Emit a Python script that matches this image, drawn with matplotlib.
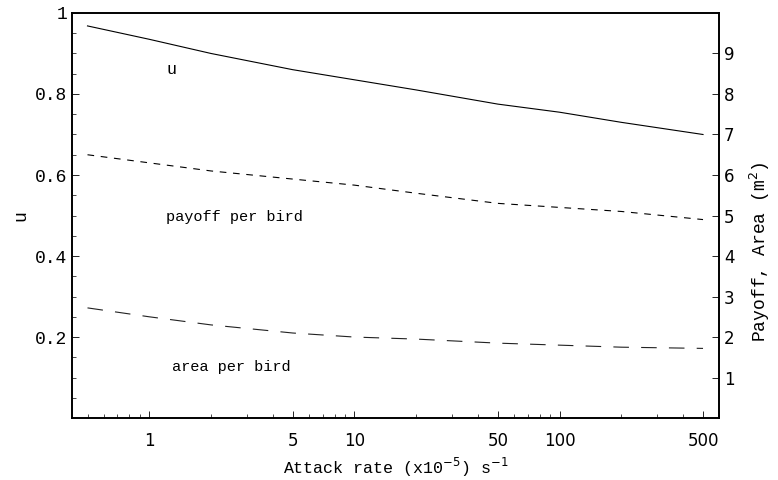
import matplotlib.pyplot as plt
from matplotlib.ticker import FixedLocator, NullFormatter

# attack rate (x10^-5 per s) and the model outputs at each rate
attack = [0.5, 1, 2, 5, 10, 20, 50, 100, 200, 500]
u = [0.968, 0.935, 0.90, 0.86, 0.835, 0.81, 0.775, 0.755, 0.73, 0.70]
payoff = [6.5, 6.3, 6.1, 5.9, 5.75, 5.55, 5.3, 5.2, 5.1, 4.9]
area = [2.72, 2.5, 2.3, 2.1, 2.0, 1.95, 1.85, 1.8, 1.75, 1.72]

xticks = [1, 5, 10, 50, 100, 500]
mono = 'Liberation Mono'

fig = plt.figure(figsize=(7.78, 4.8), dpi=100)
ax = fig.add_axes([0.0925, 0.129, 0.832, 0.844])
ax2 = ax.twinx()

ax.plot(attack, u, color='black', lw=0.8)
ax2.plot(attack, payoff, color='black', lw=0.8, dashes=(6, 6))
ax2.plot(attack, area, color='#222222', lw=0.8, dashes=(14, 11))

ax.set_xscale('log')
ax.set_xlim(0.42, 600)
ax.set_ylim(0, 1)
ax2.set_ylim(0, 10)

ax.xaxis.set_major_locator(FixedLocator(xticks))
ax.set_xticklabels([str(t) for t in xticks], fontsize=12)
minor = [m * 10 ** k for k in range(-1, 3) for m in range(1, 10)]
ax.xaxis.set_minor_locator(FixedLocator([v for v in minor if v not in xticks]))
ax.xaxis.set_minor_formatter(NullFormatter())

ax.set_yticks([0.2, 0.4, 0.6, 0.8, 1])
ax.set_yticklabels(['0.2', '0.4', '0.6', '0.8', '1'], fontsize=13, family=mono)
ax.set_yticks([i * 0.05 for i in range(1, 20)], minor=True)
ax2.set_yticks(range(1, 10))
ax2.set_yticklabels([str(i) for i in range(1, 10)], fontsize=12)

ax.tick_params(which='both', direction='in', top=False)
ax.tick_params(axis='x', which='major', pad=10)
ax.tick_params(which='major', length=5, width=0.6)
ax.tick_params(which='minor', length=3, width=0.5)
ax2.tick_params(direction='in', length=5, width=0.6)
for a in (ax, ax2):
    for s in a.spines.values():
        s.set_linewidth(1.2)

ax.set_xlabel('Attack rate (x10$^{-5}$) s$^{-1}$', fontsize=12, family=mono,
              labelpad=4)
ax.set_ylabel('u', fontsize=13, family=mono)
ax2.set_ylabel('Payoff, Area (m$^2$)', fontsize=13, family=mono)
ax2.yaxis.set_label_coords(1.045, 0.41)

ax.text(1.28, 0.86, 'u', fontsize=12, family=mono, ha='center', va='center')
ax.text(2.6, 0.496, 'payoff per bird', fontsize=11, family=mono,
        ha='center', va='center')
ax.text(2.5, 0.126, 'area per bird', fontsize=11, family=mono,
        ha='center', va='center')

fig.savefig('out.png', dpi=100)
